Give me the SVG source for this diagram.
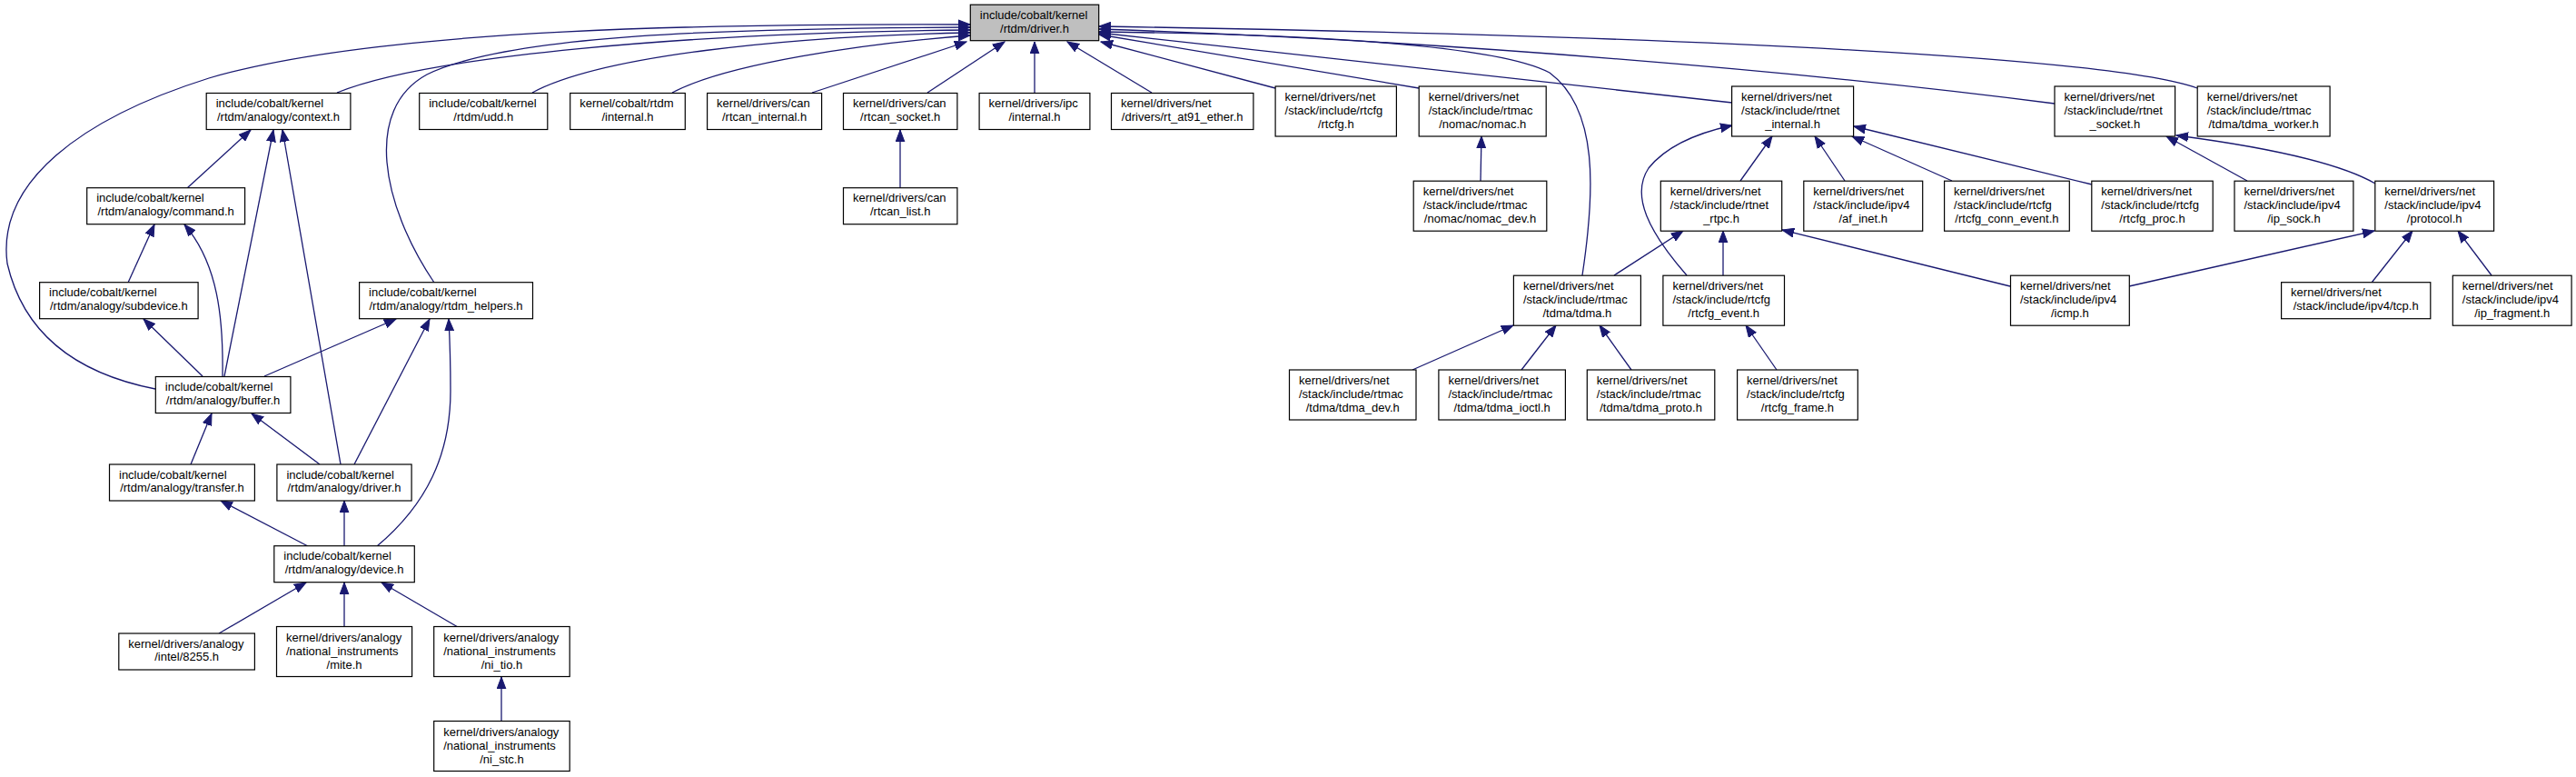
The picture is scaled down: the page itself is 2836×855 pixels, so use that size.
<svg xmlns="http://www.w3.org/2000/svg" width="2836" height="855" viewBox="0 0 2836 855">
<style>
.node rect{fill:#ffffff;stroke:#000000;stroke-width:1.2}
#n_driver rect{fill:#bfbfbf}
text{font-family:"Liberation Sans",Arial,Helvetica,sans-serif;font-size:13px;fill:#000000}
.m{text-anchor:middle}
.e{fill:none;stroke:#191970;stroke-width:1.3;marker-end:url(#ah)}
</style>
<defs>
<marker id="ah" markerUnits="userSpaceOnUse" markerWidth="14" markerHeight="11" viewBox="0 0 14 11" refX="13" refY="5.5" orient="auto">
<path d="M0,0.6 L13,5.5 L0,10.4 z" fill="#191970" stroke="#191970" stroke-width="1"/>
</marker>
</defs>
<rect x="0" y="0" width="2836" height="855" fill="#ffffff"/>
<g id="edges">
<path class="e" d="M171,428 C110,416 30,385 8,290 C-4,200 90,130 230,86 C420,30 800,26 1068,27"/>
<path class="e" d="M478,311 C420,225 400,120 470,82 C560,38 800,31 1068,30"/>
<path class="e" d="M371,102 C470,62 750,36 1068,33"/>
<path class="e" d="M586,102 C660,62 860,40 1068,36"/>
<path class="e" d="M740,102 C800,70 950,48 1068,39"/>
<path class="e" d="M894,102 L1064,46"/>
<path class="e" d="M1021,102 L1106,46"/>
<path class="e" d="M1139,102 L1139,46"/>
<path class="e" d="M1268,102 L1175,46"/>
<path class="e" d="M1404,97 L1212,46"/>
<path class="e" d="M1562,97 L1210,38"/>
<path class="e" d="M1742,303 C1756,210 1760,120 1706,80 C1650,50 1450,38 1210,35"/>
<path class="e" d="M1907,113 L1210,36"/>
<path class="e" d="M2262,114 C2000,80 1600,45 1210,32"/>
<path class="e" d="M2419,97 C2330,65 1900,40 1210,29"/>
<path class="e" d="M206,207 L276,143"/>
<path class="e" d="M247,414 L301,143"/>
<path class="e" d="M375,511 L311,143"/>
<path class="e" d="M141,311 L170,247"/>
<path class="e" d="M245,414 C246,350 240,290 203,247"/>
<path class="e" d="M223,414 L158,351"/>
<path class="e" d="M291,414 L436,351"/>
<path class="e" d="M390,511 L473,351"/>
<path class="e" d="M415,601 C470,555 496,500 496,430 C496,400 495,370 494,351"/>
<path class="e" d="M210,511 L233,455"/>
<path class="e" d="M352,511 L277,455"/>
<path class="e" d="M339,601 L243,551"/>
<path class="e" d="M379,601 L379,551"/>
<path class="e" d="M241,697 L337,641"/>
<path class="e" d="M379,690 L379,641"/>
<path class="e" d="M504,690 L420,641"/>
<path class="e" d="M552,794 L552,745"/>
<path class="e" d="M991,207 L991,143"/>
<path class="e" d="M1630,199 L1631,150"/>
<path class="e" d="M1777,303 L1853,254"/>
<path class="e" d="M1897,303 L1897,254"/>
<path class="e" d="M2213,315 L1962,253"/>
<path class="e" d="M1916,199 L1951,150"/>
<path class="e" d="M2031,199 L1998,150"/>
<path class="e" d="M2149,199 L2039,150"/>
<path class="e" d="M2303,203 L2041,139"/>
<path class="e" d="M1857,303 C1815,255 1795,215 1815,185 C1835,160 1870,146 1907,138"/>
<path class="e" d="M2474,199 L2385,150"/>
<path class="e" d="M2615,202 C2570,176 2480,160 2396,149"/>
<path class="e" d="M2344,315 L2614,254"/>
<path class="e" d="M2611,311 L2656,254"/>
<path class="e" d="M2743,303 L2706,254"/>
<path class="e" d="M1555,407 L1666,358"/>
<path class="e" d="M1675,407 L1713,358"/>
<path class="e" d="M1796,407 L1761,358"/>
<path class="e" d="M1956,407 L1922,358"/>
</g>
<g id="n_driver" class="node"><rect x="1068.3" y="5.2" width="141.4" height="39.5"/><text x="1078.8" y="21.2">include/cobalt/kernel</text><text class="m" x="1139" y="35.7">/rtdm/driver.h</text></g>
<g id="n_context" class="node"><rect x="227.2" y="102.5" width="158.7" height="40"/><text x="237.7" y="118">include/cobalt/kernel</text><text class="m" x="306.55" y="132.5">/rtdm/analogy/context.h</text></g>
<g id="n_udd" class="node"><rect x="461.7" y="102.5" width="141.1" height="40"/><text x="472.2" y="118">include/cobalt/kernel</text><text class="m" x="532.25" y="132.5">/rtdm/udd.h</text></g>
<g id="n_cobalt_internal" class="node"><rect x="627.7" y="102.5" width="126.6" height="40"/><text x="638.2" y="118">kernel/cobalt/rtdm</text><text class="m" x="691" y="132.5">/internal.h</text></g>
<g id="n_rtcan_internal" class="node"><rect x="778.6" y="102.5" width="126" height="40"/><text x="789.1" y="118">kernel/drivers/can</text><text class="m" x="841.6" y="132.5">/rtcan_internal.h</text></g>
<g id="n_rtcan_socket" class="node"><rect x="928.5" y="102.5" width="125.4" height="40"/><text x="939" y="118">kernel/drivers/can</text><text class="m" x="991.2" y="132.5">/rtcan_socket.h</text></g>
<g id="n_ipc_internal" class="node"><rect x="1078.1" y="102.5" width="121.8" height="40"/><text x="1088.6" y="118">kernel/drivers/ipc</text><text class="m" x="1139" y="132.5">/internal.h</text></g>
<g id="n_rt_at91" class="node"><rect x="1223.5" y="102.5" width="156.4" height="40"/><text x="1234" y="118">kernel/drivers/net</text><text class="m" x="1301.7" y="132.5">/drivers/rt_at91_ether.h</text></g>
<g id="n_rtcfg" class="node"><rect x="1404.1" y="95" width="133.3" height="55"/><text x="1414.6" y="111">kernel/drivers/net</text><text x="1414.6" y="126">/stack/include/rtcfg</text><text class="m" x="1470.75" y="141">/rtcfg.h</text></g>
<g id="n_nomac" class="node"><rect x="1562.2" y="95" width="140" height="55"/><text x="1572.7" y="111">kernel/drivers/net</text><text x="1572.7" y="126">/stack/include/rtmac</text><text class="m" x="1632.2" y="141">/nomac/nomac.h</text></g>
<g id="n_rtnet_internal" class="node"><rect x="1906.6" y="95" width="134" height="55"/><text x="1917.1" y="111">kernel/drivers/net</text><text x="1917.1" y="126">/stack/include/rtnet</text><text class="m" x="1973.6" y="141">_internal.h</text></g>
<g id="n_rtnet_socket" class="node"><rect x="2262" y="95" width="132.6" height="55"/><text x="2272.5" y="111">kernel/drivers/net</text><text x="2272.5" y="126">/stack/include/rtnet</text><text class="m" x="2328.3" y="141">_socket.h</text></g>
<g id="n_tdma_worker" class="node"><rect x="2419.2" y="95" width="145.9" height="55"/><text x="2429.7" y="111">kernel/drivers/net</text><text x="2429.7" y="126">/stack/include/rtmac</text><text class="m" x="2492.15" y="141">/tdma/tdma_worker.h</text></g>
<g id="n_command" class="node"><rect x="95.7" y="206.7" width="173.9" height="40"/><text x="106.2" y="222.2">include/cobalt/kernel</text><text class="m" x="182.65" y="236.7">/rtdm/analogy/command.h</text></g>
<g id="n_rtcan_list" class="node"><rect x="928.5" y="206.7" width="125.4" height="40"/><text x="939" y="222.2">kernel/drivers/can</text><text class="m" x="991.2" y="236.7">/rtcan_list.h</text></g>
<g id="n_nomac_dev" class="node"><rect x="1556.2" y="199.2" width="146.6" height="55"/><text x="1566.7" y="215.2">kernel/drivers/net</text><text x="1566.7" y="230.2">/stack/include/rtmac</text><text class="m" x="1629.5" y="245.2">/nomac/nomac_dev.h</text></g>
<g id="n_rtnet_rtpc" class="node"><rect x="1828.3" y="199.2" width="133.4" height="55"/><text x="1838.8" y="215.2">kernel/drivers/net</text><text x="1838.8" y="230.2">/stack/include/rtnet</text><text class="m" x="1895" y="245.2">_rtpc.h</text></g>
<g id="n_af_inet" class="node"><rect x="1985.8" y="199.2" width="130.9" height="55"/><text x="1996.3" y="215.2">kernel/drivers/net</text><text x="1996.3" y="230.2">/stack/include/ipv4</text><text class="m" x="2051.25" y="245.2">/af_inet.h</text></g>
<g id="n_rtcfg_conn_event" class="node"><rect x="2140.6" y="199.2" width="137.7" height="55"/><text x="2151.1" y="215.2">kernel/drivers/net</text><text x="2151.1" y="230.2">/stack/include/rtcfg</text><text class="m" x="2209.45" y="245.2">/rtcfg_conn_event.h</text></g>
<g id="n_rtcfg_proc" class="node"><rect x="2302.8" y="199.2" width="133.4" height="55"/><text x="2313.3" y="215.2">kernel/drivers/net</text><text x="2313.3" y="230.2">/stack/include/rtcfg</text><text class="m" x="2369.5" y="245.2">/rtcfg_proc.h</text></g>
<g id="n_ip_sock" class="node"><rect x="2460" y="199.2" width="130.9" height="55"/><text x="2470.5" y="215.2">kernel/drivers/net</text><text x="2470.5" y="230.2">/stack/include/ipv4</text><text class="m" x="2525.45" y="245.2">/ip_sock.h</text></g>
<g id="n_protocol" class="node"><rect x="2614.8" y="199.2" width="130.8" height="55"/><text x="2625.3" y="215.2">kernel/drivers/net</text><text x="2625.3" y="230.2">/stack/include/ipv4</text><text class="m" x="2680.2" y="245.2">/protocol.h</text></g>
<g id="n_subdevice" class="node"><rect x="43.6" y="310.7" width="174.5" height="40"/><text x="54.1" y="326.2">include/cobalt/kernel</text><text class="m" x="130.85" y="340.7">/rtdm/analogy/subdevice.h</text></g>
<g id="n_rtdm_helpers" class="node"><rect x="395.6" y="310.7" width="190.9" height="40"/><text x="406.1" y="326.2">include/cobalt/kernel</text><text class="m" x="491.05" y="340.7">/rtdm/analogy/rtdm_helpers.h</text></g>
<g id="n_tdma" class="node"><rect x="1666.4" y="303.2" width="140" height="55"/><text x="1676.9" y="319.2">kernel/drivers/net</text><text x="1676.9" y="334.2">/stack/include/rtmac</text><text class="m" x="1736.4" y="349.2">/tdma/tdma.h</text></g>
<g id="n_rtcfg_event" class="node"><rect x="1830.9" y="303.2" width="133.6" height="55"/><text x="1841.4" y="319.2">kernel/drivers/net</text><text x="1841.4" y="334.2">/stack/include/rtcfg</text><text class="m" x="1897.7" y="349.2">/rtcfg_event.h</text></g>
<g id="n_icmp" class="node"><rect x="2213.5" y="303.2" width="130.8" height="55"/><text x="2224" y="319.2">kernel/drivers/net</text><text x="2224" y="334.2">/stack/include/ipv4</text><text class="m" x="2278.9" y="349.2">/icmp.h</text></g>
<g id="n_tcp" class="node"><rect x="2511.6" y="310.7" width="164.2" height="40"/><text x="2522.1" y="326.2">kernel/drivers/net</text><text class="m" x="2593.7" y="340.7">/stack/include/ipv4/tcp.h</text></g>
<g id="n_ip_fragment" class="node"><rect x="2700.3" y="303.2" width="130.8" height="55"/><text x="2710.8" y="319.2">kernel/drivers/net</text><text x="2710.8" y="334.2">/stack/include/ipv4</text><text class="m" x="2765.7" y="349.2">/ip_fragment.h</text></g>
<g id="n_buffer" class="node"><rect x="171.3" y="414.5" width="148.6" height="40"/><text x="181.8" y="430">include/cobalt/kernel</text><text class="m" x="245.6" y="444.5">/rtdm/analogy/buffer.h</text></g>
<g id="n_tdma_dev" class="node"><rect x="1419.5" y="407" width="139.5" height="55"/><text x="1430" y="423">kernel/drivers/net</text><text x="1430" y="438">/stack/include/rtmac</text><text class="m" x="1489.25" y="453">/tdma/tdma_dev.h</text></g>
<g id="n_tdma_ioctl" class="node"><rect x="1583.9" y="407" width="139.5" height="55"/><text x="1594.4" y="423">kernel/drivers/net</text><text x="1594.4" y="438">/stack/include/rtmac</text><text class="m" x="1653.65" y="453">/tdma/tdma_ioctl.h</text></g>
<g id="n_tdma_proto" class="node"><rect x="1747.3" y="407" width="140.5" height="55"/><text x="1757.8" y="423">kernel/drivers/net</text><text x="1757.8" y="438">/stack/include/rtmac</text><text class="m" x="1817.55" y="453">/tdma/tdma_proto.h</text></g>
<g id="n_rtcfg_frame" class="node"><rect x="1912.6" y="407" width="132.7" height="55"/><text x="1923.1" y="423">kernel/drivers/net</text><text x="1923.1" y="438">/stack/include/rtcfg</text><text class="m" x="1978.95" y="453">/rtcfg_frame.h</text></g>
<g id="n_transfer" class="node"><rect x="120.5" y="511" width="159.9" height="40"/><text x="131" y="526.5">include/cobalt/kernel</text><text class="m" x="200.45" y="541">/rtdm/analogy/transfer.h</text></g>
<g id="n_analogy_driver" class="node"><rect x="304.9" y="511" width="148.2" height="40"/><text x="315.4" y="526.5">include/cobalt/kernel</text><text class="m" x="379" y="541">/rtdm/analogy/driver.h</text></g>
<g id="n_device" class="node"><rect x="301.8" y="600.7" width="154.5" height="40"/><text x="312.3" y="616.2">include/cobalt/kernel</text><text class="m" x="379.05" y="630.7">/rtdm/analogy/device.h</text></g>
<g id="n_8255" class="node"><rect x="130.8" y="697" width="149.6" height="40"/><text x="141.3" y="712.5">kernel/drivers/analogy</text><text class="m" x="205.6" y="727">/intel/8255.h</text></g>
<g id="n_mite" class="node"><rect x="304.5" y="689.5" width="149.1" height="55"/><text x="315" y="705.5">kernel/drivers/analogy</text><text x="315" y="720.5">/national_instruments</text><text class="m" x="379.05" y="735.5">/mite.h</text></g>
<g id="n_ni_tio" class="node"><rect x="477.7" y="689.5" width="149.5" height="55"/><text x="488.2" y="705.5">kernel/drivers/analogy</text><text x="488.2" y="720.5">/national_instruments</text><text class="m" x="552.45" y="735.5">/ni_tio.h</text></g>
<g id="n_ni_stc" class="node"><rect x="477.7" y="793.5" width="149.5" height="55"/><text x="488.2" y="809.5">kernel/drivers/analogy</text><text x="488.2" y="824.5">/national_instruments</text><text class="m" x="552.45" y="839.5">/ni_stc.h</text></g>
</svg>
